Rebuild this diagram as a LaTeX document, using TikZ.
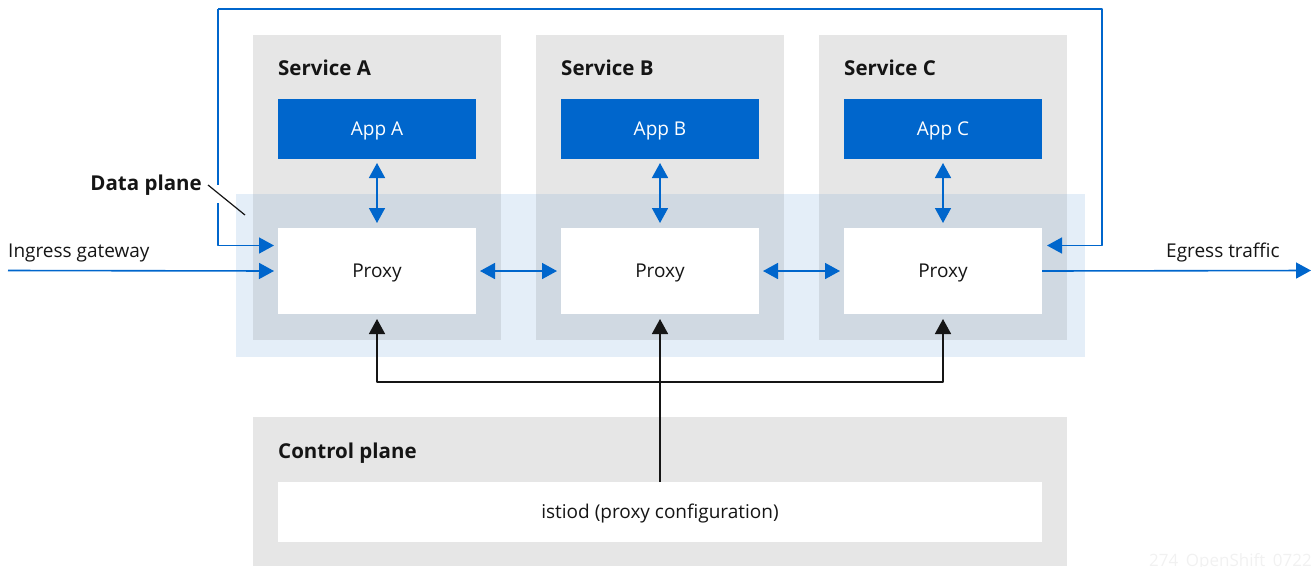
\documentclass[tikz,border=0pt]{standalone}
\usepackage{fontspec}
\setmainfont{Open Sans}
\usetikzlibrary{arrows.meta}
\definecolor{grayfill}{HTML}{E6E6E6}
\definecolor{bandfill}{HTML}{E4EEF8}
\definecolor{overlapfill}{HTML}{D0D9E2}
\definecolor{bluemain}{HTML}{0066CC}
\definecolor{inkc}{HTML}{151515}
\definecolor{markc}{HTML}{F1F1F1}
\tikzset{
  box/.style={anchor=north west,inner sep=0pt,outer sep=0pt,text=inkc,text height=15pt,text depth=3pt,font=\fontsize{19}{22}\selectfont},
  svc/.style={box,fill=grayfill,minimum width=248pt,minimum height=305pt},
  over/.style={box,fill=overlapfill,minimum width=248pt,minimum height=146pt},
  appbox/.style={box,fill=bluemain,text=white,minimum width=198pt,minimum height=60pt},
  proxybox/.style={box,fill=white,minimum width=198pt,minimum height=86pt},
  head/.style={anchor=base west,inner sep=0pt,text=inkc,font=\fontsize{20.5}{24}\selectfont\bfseries},
  lab/.style={inner sep=0pt,text=inkc,font=\fontsize{19}{22}\selectfont},
  blueline/.style={draw=bluemain,line width=1.6pt,line join=round},
  oneway/.style={blueline,-{Triangle[length=15pt,width=16pt]}},
  twoway/.style={blueline,{Triangle[length=15pt,width=16pt]}-{Triangle[length=15pt,width=16pt]}},
  blackup/.style={draw=inkc,line width=1.6pt,-{Triangle[length=15pt,width=16pt]},line join=round}
}
\begin{document}
\begin{tikzpicture}[x=1pt,y=-1pt]
\useasboundingbox (0,0) rectangle (1314,566);
% service panels
\node[svc] (svcA) at (253,35) {};
\node[svc] (svcB) at (536,35) {};
\node[svc] (svcC) at (819,35) {};
% data plane band
\node[box,fill=bandfill,minimum width=849pt,minimum height=163pt] (band) at (236,194) {};
\node[over] (ovA) at (253,194) {};
\node[over] (ovB) at (536,194) {};
\node[over] (ovC) at (819,194) {};
% control plane
\node[box,fill=grayfill,minimum width=814pt,minimum height=149pt] (ctl) at (253,417) {};
\node[box,fill=white,minimum width=764pt,minimum height=60pt] (istiod) at (278,482) {istiod (proxy configuration)};
% apps
\node[appbox] (appA) at (278,99) {App A};
\node[appbox] (appB) at (561,99) {App B};
\node[appbox] (appC) at (844,99) {App C};
% proxies
\node[proxybox] (proxyA) at (278,228) {Proxy};
\node[proxybox] (proxyB) at (561,228) {Proxy};
\node[proxybox] (proxyC) at (844,228) {Proxy};
% headings
\node[head] (hA) at (278,75) {Service A};
\node[head] (hB) at (561,75) {Service B};
\node[head] (hC) at (844,75) {Service C};
\node[head] (hCtl) at (278,458) {Control plane};
\node[head,anchor=base east] (hData) at (202,190) {Data plane};
\node[lab,anchor=base west] (ingress) at (8,257) {Ingress gateway};
\node[lab,anchor=base west] (egress) at (1166,257) {Egress traffic};
\node[anchor=base east,inner sep=0pt,text=markc,font=\fontsize{17}{20}\selectfont] (mark) at (1312,566) {274\_OpenShift\_0722};
% free ends
\coordinate (inStart) at (8,270.5);
\coordinate (outEnd) at (1311,270.5);
\coordinate (loopTR) at (1102,9);
\coordinate (loopTL) at (218,9);
\coordinate (loopGapA) at (218,185);
\coordinate (loopGapB) at (218,203);
\coordinate (leadA) at (208,185);
\coordinate (leadB) at (245,215);
\coordinate (bus) at (660,382);
% app-proxy
\foreach \n in {A,B,C}
  \draw[twoway,shorten <=4pt,shorten >=5pt] (app\n.south) -- (proxy\n.north);
% proxy-proxy
\draw[twoway,shorten <=4pt,shorten >=4pt] (proxyA.east) -- (proxyB.west);
\draw[twoway,shorten <=4pt,shorten >=4pt] (proxyB.east) -- (proxyC.west);
% ingress and egress
\draw[oneway,shorten >=4pt] (inStart) -- (proxyA.west);
\draw[oneway] (proxyC.east) -- (outEnd);
% loop from the gateway round to proxy C
\draw[blueline] (loopTL) -- (loopGapA);
\draw[oneway,shorten >=4pt] (loopGapB) |- ([yshift=25.5pt]proxyA.west);
\draw[oneway,shorten >=5pt] (loopTL) -- (loopTR) |- ([yshift=25.5pt]proxyC.east);
% leader
\draw[draw=inkc,line width=1.2pt] (leadA) -- (leadB);
% control connectors
\draw[blackup,shorten >=5pt] (istiod.north) -- (proxyB.south);
\draw[blackup,shorten >=5pt] (bus) -| (proxyA.south);
\draw[blackup,shorten >=5pt] (bus) -| (proxyC.south);
\end{tikzpicture}
\end{document}
